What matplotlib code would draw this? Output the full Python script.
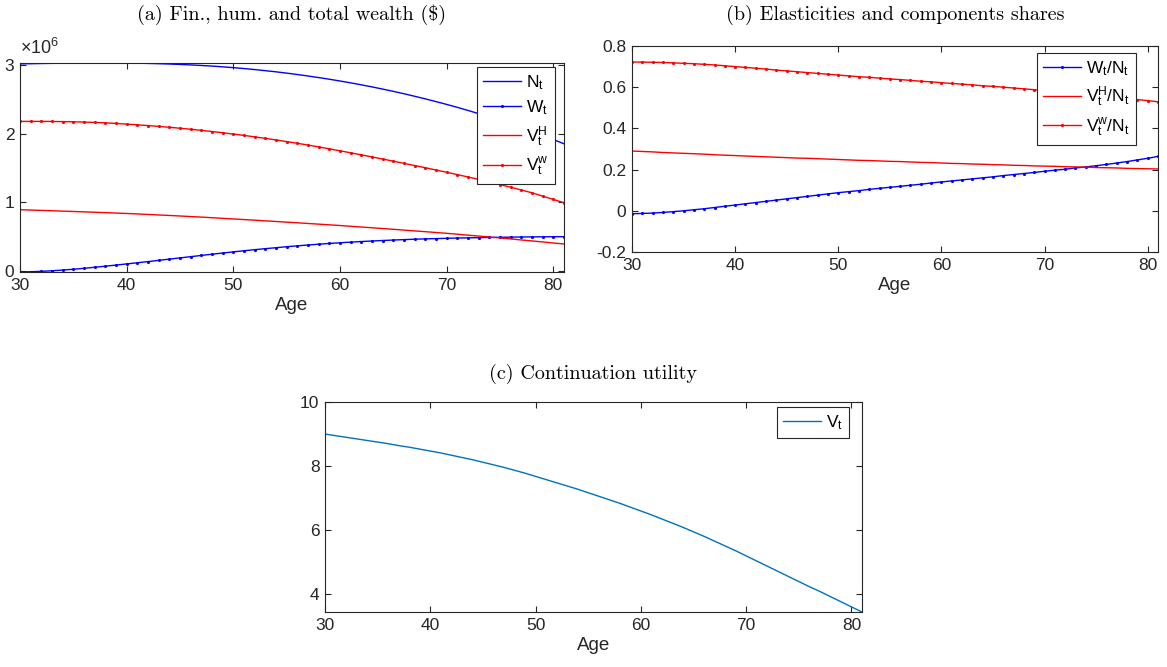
import numpy as np
import matplotlib.pyplot as plt

plt.rcParams['font.family'] = ['Liberation Sans', 'DejaVu Sans']
plt.rcParams['mathtext.fontset'] = 'custom'
plt.rcParams['mathtext.rm'] = 'Liberation Sans'
plt.rcParams['mathtext.default'] = 'regular'

age = np.arange(30, 82)

# (a) wealth, dollars
n_t = np.array([3.020, 3.023, 3.026, 3.028, 3.030, 3.031, 3.032, 3.033, 3.033, 3.033,
                3.032, 3.030, 3.027, 3.023, 3.018, 3.012, 3.005, 2.997, 2.988, 2.977,
                2.965, 2.952, 2.937, 2.921, 2.904, 2.885, 2.865, 2.843, 2.820, 2.796,
                2.770, 2.743, 2.714, 2.684, 2.652, 2.619, 2.584, 2.547, 2.509, 2.469,
                2.428, 2.385, 2.340, 2.293, 2.245, 2.195, 2.143, 2.089, 2.033, 1.975,
                1.915, 1.853]) * 1e6
w_t = np.array([-0.020, -0.016, -0.010, -0.002, 0.008, 0.020, 0.034, 0.049, 0.065, 0.081,
                0.098, 0.115, 0.132, 0.150, 0.168, 0.186, 0.204, 0.222, 0.240, 0.257,
                0.274, 0.290, 0.306, 0.321, 0.335, 0.349, 0.362, 0.374, 0.386, 0.397,
                0.407, 0.416, 0.425, 0.433, 0.440, 0.447, 0.453, 0.459, 0.464, 0.468,
                0.472, 0.476, 0.479, 0.482, 0.485, 0.487, 0.489, 0.491, 0.493, 0.494,
                0.495, 0.496]) * 1e6
vh_t = np.array([0.890, 0.885, 0.880, 0.875, 0.869, 0.864, 0.858, 0.853, 0.847, 0.841,
                 0.835, 0.828, 0.821, 0.813, 0.806, 0.798, 0.790, 0.782, 0.773, 0.764,
                 0.755, 0.746, 0.737, 0.727, 0.718, 0.708, 0.699, 0.689, 0.679, 0.669,
                 0.659, 0.648, 0.637, 0.626, 0.615, 0.604, 0.592, 0.580, 0.569, 0.557,
                 0.545, 0.532, 0.518, 0.505, 0.491, 0.477, 0.463, 0.448, 0.434, 0.419,
                 0.404, 0.389]) * 1e6
vw_t = np.array([2.180, 2.180, 2.180, 2.179, 2.177, 2.174, 2.170, 2.165, 2.159, 2.150,
                 2.140, 2.130, 2.119, 2.107, 2.094, 2.080, 2.065, 2.049, 2.032, 2.014,
                 1.995, 1.975, 1.954, 1.932, 1.909, 1.885, 1.860, 1.834, 1.807, 1.779,
                 1.750, 1.721, 1.691, 1.661, 1.630, 1.599, 1.567, 1.535, 1.503, 1.470,
                 1.437, 1.403, 1.368, 1.332, 1.295, 1.257, 1.218, 1.178, 1.137, 1.088,
                 1.040, 0.992]) * 1e6

# (b) shares
w_share = np.array([-0.014, -0.013, -0.011, -0.008, -0.004, 0.000, 0.005, 0.010, 0.016, 0.022,
                    0.028, 0.034, 0.040, 0.046, 0.052, 0.058, 0.064, 0.070, 0.076, 0.082,
                    0.088, 0.093, 0.098, 0.104, 0.109, 0.114, 0.119, 0.124, 0.129, 0.135,
                    0.140, 0.145, 0.150, 0.155, 0.160, 0.165, 0.171, 0.176, 0.181, 0.186,
                    0.192, 0.197, 0.202, 0.208, 0.213, 0.219, 0.225, 0.232, 0.239, 0.247,
                    0.255, 0.264])
vh_share = np.array([0.290, 0.288, 0.286, 0.283, 0.281, 0.279, 0.277, 0.275, 0.272, 0.270,
                     0.268, 0.266, 0.264, 0.262, 0.260, 0.258, 0.256, 0.255, 0.253, 0.251,
                     0.249, 0.247, 0.245, 0.244, 0.242, 0.240, 0.239, 0.237, 0.235, 0.234,
                     0.232, 0.230, 0.229, 0.227, 0.226, 0.224, 0.223, 0.221, 0.220, 0.218,
                     0.217, 0.216, 0.214, 0.213, 0.212, 0.210, 0.209, 0.208, 0.206, 0.205,
                     0.204, 0.203])
vw_share = np.array([0.722, 0.722, 0.721, 0.720, 0.718, 0.716, 0.714, 0.711, 0.708, 0.704,
                     0.700, 0.696, 0.692, 0.688, 0.683, 0.679, 0.675, 0.671, 0.667, 0.663,
                     0.659, 0.655, 0.651, 0.648, 0.644, 0.640, 0.637, 0.633, 0.629, 0.626,
                     0.622, 0.618, 0.615, 0.611, 0.607, 0.604, 0.600, 0.596, 0.592, 0.588,
                     0.584, 0.580, 0.575, 0.571, 0.566, 0.561, 0.556, 0.551, 0.546, 0.540,
                     0.535, 0.529])

# (c) continuation utility
v_t = np.array([9.00, 8.95, 8.90, 8.85, 8.80, 8.75, 8.70, 8.64, 8.59, 8.53,
                8.47, 8.41, 8.34, 8.27, 8.20, 8.12, 8.04, 7.96, 7.87, 7.78,
                7.68, 7.58, 7.48, 7.38, 7.28, 7.17, 7.06, 6.95, 6.84, 6.72,
                6.60, 6.48, 6.35, 6.22, 6.09, 5.95, 5.81, 5.66, 5.51, 5.36,
                5.20, 5.04, 4.88, 4.72, 4.56, 4.40, 4.24, 4.09, 3.93, 3.77,
                3.61, 3.45])

axcol = '#262626'
W, H = 1167, 667


def box(l, t, r, b):
    return [l / W, 1 - b / H, (r - l) / W, (b - t) / H]


def style(ax):
    ax.set_xlim(30, 81)
    ax.set_xticks([30, 40, 50, 60, 70, 80])
    ax.tick_params(direction='in', top=True, right=True, length=4, width=0.8,
                   labelsize=12.5, colors=axcol, pad=4)
    for s in ax.spines.values():
        s.set_color(axcol)
        s.set_linewidth(0.8)
    ax.set_xlabel('Age', fontsize=13.5, color=axcol, labelpad=3)


def leg(ax, x, y):
    lg = ax.legend(loc='upper right', bbox_to_anchor=(x, y), borderaxespad=0,
                   fancybox=False, framealpha=1, edgecolor=axcol, fontsize=12.5,
                   handlelength=2.2, handletextpad=0.3, labelspacing=0.4,
                   borderpad=0.35)
    lg.get_frame().set_linewidth(0.8)


fig = plt.figure(figsize=(11.67, 6.67), dpi=100)
ttl = dict(family='cmr10', fontsize=14.5, ha='center', va='center')

# (a)
ax1 = fig.add_axes(box(20, 63, 564, 272))
ax1.plot(age, n_t, color='b', lw=1, label='N$_t$')
ax1.plot(age, w_t, color='b', lw=1, marker='.', ms=2.5, label='W$_t$')
ax1.plot(age, vh_t, color='r', lw=1, label='V$_t^H$')
ax1.plot(age, vw_t, color='r', lw=1, marker='.', ms=2.5, label='V$_t^w$')
style(ax1)
ymin = min(n_t.min(), w_t.min(), vh_t.min(), vw_t.min())
ymax = max(n_t.max(), w_t.max(), vh_t.max(), vw_t.max())
ax1.set_ylim(ymin, ymax)
ax1.set_yticks([0, 1e6, 2e6, 3e6])
ax1.set_yticklabels(['0', '1', '2', '3'])
ax1.text(0.0, 1.025, '×10$^6$', transform=ax1.transAxes, fontsize=13,
         color=axcol, ha='left', va='bottom')
leg(ax1, 0.983, 0.982)
fig.text(292 / W, 1 - 15 / H, '(a) Fin., hum. and total wealth ($)', **ttl)

# (b)
ax2 = fig.add_axes(box(632, 46, 1158, 252))
ax2.plot(age, w_share, color='b', lw=1, marker='.', ms=2.5, label='W$_t$/N$_t$')
ax2.plot(age, vh_share, color='r', lw=1, label='V$_t^H$/N$_t$')
ax2.plot(age, vw_share, color='r', lw=1, marker='.', ms=2.5, label='V$_t^w$/N$_t$')
style(ax2)
ax2.set_ylim(-0.2, 0.8)
ax2.set_yticks([-0.2, 0, 0.2, 0.4, 0.6, 0.8])
ax2.set_yticklabels(['-0.2', '0', '0.2', '0.4', '0.6', '0.8'])
leg(ax2, 0.958, 0.966)
fig.text(895 / W, 1 - 15 / H, '(b) Elasticities and components shares', **ttl)

# (c)
ax3 = fig.add_axes(box(325, 402, 862, 612))
ax3.plot(age, v_t, color='#0072BD', lw=1, label='V$_t$')
style(ax3)
ax3.set_ylim(v_t.min(), 10)
ax3.set_yticks([4, 6, 8, 10])
leg(ax3, 0.976, 0.976)
fig.text(593 / W, 1 - 374 / H, '(c) Continuation utility', **ttl)

fig.savefig('out.png', dpi=100)
